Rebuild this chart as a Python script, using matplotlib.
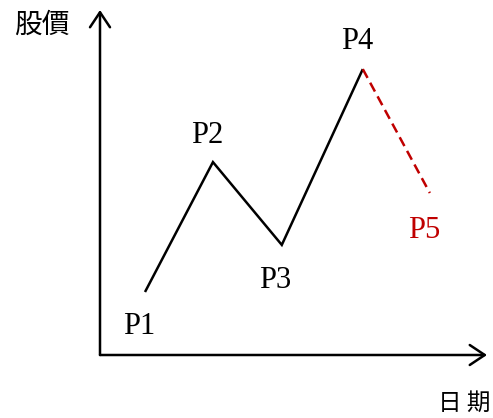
import matplotlib
matplotlib.use("Agg")
import matplotlib.pyplot as plt

# wave points (date, price) in arbitrary units
labels = ["P1", "P2", "P3", "P4", "P5"]
dates = [1.0, 2.51, 4.04, 5.84, 7.33]
prices = [2.1, 6.43, 3.67, 9.53, 5.4]
label_offsets = [(-6, -35), (-6, 27), (-7, -36), (-6, 28), (-6, -38)]  # pixels

DPI = 100
px = 72.0 / DPI  # points per pixel

fig = plt.figure(figsize=(4.93, 4.18), dpi=DPI)
ax = fig.add_axes([100 / 493, 63 / 418, 387 / 493, 345 / 418])
ax.set_xlim(0, 8.6)
ax.set_ylim(0, 11.5)
ax.set_axis_off()

# axes drawn as arrows
arrow = dict(arrowstyle="->,head_length=0.75,head_width=0.5",
             lw=2.5 * px, color="black", mutation_scale=20 * px,
             shrinkA=0, shrinkB=0)
ax.annotate("", xy=(1, 0), xytext=(0, 0), xycoords="axes fraction",
            textcoords="axes fraction", arrowprops=arrow)
ax.annotate("", xy=(0, 1), xytext=(0, 0), xycoords="axes fraction",
            textcoords="axes fraction", arrowprops=arrow)

# realised path P1..P4 and projected leg P4->P5
ax.plot(dates[:4], prices[:4], color="black", lw=2.5 * px,
        solid_joinstyle="miter", solid_capstyle="butt")
ax.plot(dates[3:], prices[3:], color="#C00000", lw=2.5 * px,
        dashes=(4, 2.2), dash_capstyle="butt")

serif = ["Liberation Serif", "DejaVu Serif"]
for i, (lab, x, y) in enumerate(zip(labels, dates, prices)):
    dx, dy = label_offsets[i]
    ax.annotate(lab, xy=(x, y), xytext=(dx, dy), textcoords="offset pixels",
                ha="center", va="center", fontsize=22, family=serif,
                color="#C00000" if lab == "P5" else "black")

cjk = ["Noto Sans CJK TC", "DejaVu Sans"]
fig.text(42 / 493, 1 - 25 / 418, "股價", ha="center", va="center",
         fontsize=20, family=cjk)
fig.text(464 / 493, 1 - 403 / 418, "日 期", ha="center", va="center",
         fontsize=17, family=cjk)

fig.savefig("out.png", dpi=DPI)
